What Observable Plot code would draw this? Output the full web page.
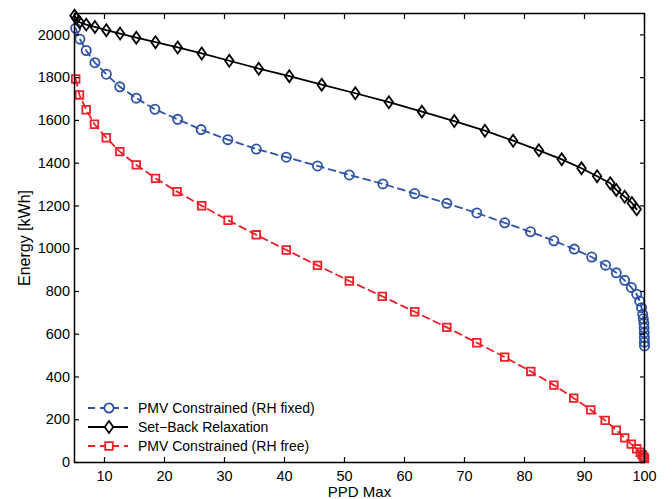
<!DOCTYPE html>
<html>
<head>
<meta charset="utf-8">
<script src="https://cdn.jsdelivr.net/npm/d3@7"></script>
<script src="https://cdn.jsdelivr.net/npm/@observablehq/plot@0.6"></script>
<style>
  html, body { margin: 0; padding: 0; background: #fff; }
  #wrap { position: relative; width: 672px; height: 499px; font-family: "Liberation Sans", Arial, sans-serif; }
  #legend { position: absolute; left: 86px; top: 399px; font-size: 14px; color: #000; }
  .row { display: flex; align-items: center; height: 18.7px; }
  .row svg { margin-right: 8px; }
</style>
</head>
<body>
<div id="wrap"></div>
<script>
// --- Data ---
const seriesNames = ["PMV Constrained (RH fixed)", "Set\u2212Back Relaxation", "PMV Constrained (RH free)"];
const seriesColors = ["#2d52a8", "#000000", "#ee1f27"];

const ppdFixed = [5.2, 5.9, 6.95, 8.4, 10.3, 12.55, 15.3, 18.4, 22.2, 26.1, 30.55, 35.3, 40.3, 45.5, 50.8, 56.4, 61.7, 67.05, 72.05, 76.7, 81.0, 84.9, 88.3, 91.2, 93.5, 95.3, 96.7, 97.8, 98.7, 99.2, 99.5, 99.7, 99.8, 99.9, 99.93, 99.96, 99.98, 99.99, 100];
const energyFixed = [2031, 1980, 1927, 1870, 1816, 1757, 1704, 1652, 1605, 1557, 1510, 1466, 1428, 1387, 1345, 1303, 1258, 1212, 1167, 1121, 1079, 1037, 998, 961, 923, 887, 852, 819, 787, 755, 724, 693, 672, 651, 630, 607, 585, 563, 545];

const ppdSetback = [5, 5.3, 5.85, 6.95, 8.4, 10.3, 12.6, 15.3, 18.5, 22.2, 26.2, 30.8, 35.7, 40.8, 46.2, 51.8, 57.4, 62.9, 68.3, 73.4, 78.1, 82.4, 86.2, 89.5, 92.1, 94.3, 95.3, 96.7, 97.9, 98.7];
const energySetback = [2090, 2077, 2059, 2048, 2037, 2022, 2006, 1987, 1966, 1941, 1913, 1879, 1842, 1807, 1767, 1727, 1685, 1641, 1597, 1552, 1505, 1460, 1418, 1376, 1339, 1306, 1275, 1243, 1214, 1184];

const ppdFree = [5.2, 5.83, 6.95, 8.33, 10.3, 12.55, 15.3, 18.5, 22.1, 26.2, 30.6, 35.3, 40.3, 45.5, 50.8, 56.3, 61.7, 67.05, 72.05, 76.7, 81.05, 84.9, 88.2, 91.05, 93.45, 95.3, 96.7, 97.8, 98.7, 99.3, 99.6, 99.85, 100];
const energyFree = [1794, 1719, 1650, 1582, 1519, 1454, 1392, 1329, 1267, 1201, 1133, 1065, 994, 922, 849, 777, 705, 632, 560, 493, 426, 362, 301, 246, 197, 151, 115, 86, 64, 48, 36, 26, 19];

const xTicks = [10, 20, 30, 40, 50, 60, 70, 80, 90, 100];
const yTicks = [0, 200, 400, 600, 800, 1000, 1200, 1400, 1600, 1800, 2000];
const xTitle = "PPD Max";
const yTitle = "Energy [kWh]";

// --- Build tables ---
const toRows = (xs, ys) => xs.map((x, i) => ({x, y: ys[i]}));
const fixed = toRows(ppdFixed, energyFixed);
const setback = toRows(ppdSetback, energySetback);
const free = toRows(ppdFree, energyFree);

// Custom diamond (MATLAB-like proportions)
const diamond = {
  draw(context, size) {
    const w = Math.sqrt(size) * 0.52, h = w * 1.4;
    context.moveTo(0, -h); context.lineTo(w, 0); context.lineTo(0, h); context.lineTo(-w, 0); context.closePath();
  }
};

const font = "Liberation Sans, Arial, sans-serif";
const dash = "7,5";
const fmt = d => String(d);
const lw = 1.8;

const chart = Plot.plot({
  width: 672,
  height: 499,
  marginLeft: 74,
  marginRight: 28,
  marginTop: 13,
  marginBottom: 37,
  style: {fontFamily: font, fontSize: "14px", color: "#000", background: "#fff", overflow: "visible"},
  x: {domain: [5, 100]},
  y: {domain: [0, 2100]},
  marks: [
    // series lines
    Plot.line(fixed, {x: "x", y: "y", stroke: seriesColors[0], strokeWidth: lw, strokeDasharray: dash}),
    Plot.line(setback, {x: "x", y: "y", stroke: seriesColors[1], strokeWidth: lw}),
    Plot.line(free, {x: "x", y: "y", stroke: seriesColors[2], strokeWidth: lw, strokeDasharray: dash}),
    // markers
    Plot.dot(fixed, {x: "x", y: "y", symbol: "circle", r: 4.6, stroke: seriesColors[0], strokeWidth: lw, fill: "none"}),
    Plot.dot(setback, {x: "x", y: "y", symbol: diamond, r: 4.6, stroke: seriesColors[1], strokeWidth: lw, fill: "none"}),
    Plot.dot(free, {x: "x", y: "y", symbol: "square", r: 4.3, stroke: seriesColors[2], strokeWidth: lw, fill: "none"}),
    // box
    Plot.frame({stroke: "#000", strokeWidth: 1.5}),
    // inward ticks on all four sides
    Plot.axisX(xTicks, {anchor: "bottom", tickSize: -5, tickFormat: () => "", label: null, strokeWidth: 1.2}),
    Plot.axisX(xTicks, {anchor: "top", tickSize: -5, tickFormat: () => "", label: null, strokeWidth: 1.2}),
    Plot.axisY(yTicks, {anchor: "left", tickSize: -5, tickFormat: () => "", label: null, strokeWidth: 1.2}),
    Plot.axisY(yTicks, {anchor: "right", tickSize: -5, tickFormat: () => "", label: null, strokeWidth: 1.2}),
    // tick labels + axis titles
    Plot.axisX(xTicks, {anchor: "bottom", tickSize: 0, tickPadding: 8, fontSize: 14.5, tickFormat: fmt, label: xTitle, labelAnchor: "center", labelOffset: 34, labelArrow: "none"}),
    Plot.axisY(yTicks, {anchor: "left", tickSize: 0, tickPadding: 4.5, fontSize: 14.5, tickFormat: fmt, label: yTitle, labelAnchor: "center", labelOffset: 56, labelArrow: "none"})
  ]
});

// enlarge the axis titles
d3.select(chart).selectAll("text").each(function () {
  const t = this.textContent;
  if (t === xTitle) d3.select(this).attr("font-size", 15);
  if (t === yTitle) d3.select(this).attr("font-size", 16);
});

const wrap = document.getElementById("wrap");
wrap.appendChild(chart);

// --- Legend (overlay inside the plot area) ---
const legend = document.createElement("div");
legend.id = "legend";
const symbols = [d3.symbolCircle, diamond, d3.symbolSquare];
const sizes = [4.6, 4.6, 4.3];
const dashes = [dash, null, dash];
seriesNames.forEach((name, i) => {
  const row = document.createElement("div");
  row.className = "row";
  const svg = d3.create("svg").attr("width", 44).attr("height", 18);
  svg.append("line").attr("x1", 2).attr("x2", 42).attr("y1", 9).attr("y2", 9)
    .attr("stroke", seriesColors[i]).attr("stroke-width", lw)
    .attr("stroke-dasharray", dashes[i]);
  svg.append("path").attr("transform", "translate(23,9)")
    .attr("d", d3.symbol(symbols[i], Math.PI * sizes[i] * sizes[i])())
    .attr("fill", "#fff").attr("stroke", seriesColors[i]).attr("stroke-width", lw);
  row.appendChild(svg.node());
  const label = document.createElement("span");
  label.textContent = name;
  row.appendChild(label);
  legend.appendChild(row);
});
wrap.appendChild(legend);
</script>
</body>
</html>
